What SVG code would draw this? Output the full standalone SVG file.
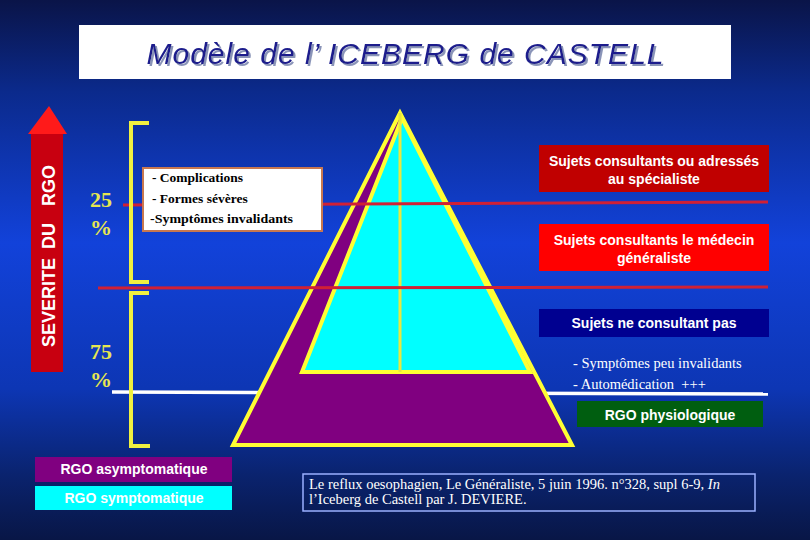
<svg xmlns="http://www.w3.org/2000/svg" width="810" height="540" viewBox="0 0 810 540">
<defs>
<linearGradient id="bg" x1="0" y1="0" x2="0" y2="1">
<stop offset="0" stop-color="#0a1448"/>
<stop offset="0.17" stop-color="#0b2a8c"/>
<stop offset="0.45" stop-color="#1242da"/>
<stop offset="0.72" stop-color="#0d36b4"/>
<stop offset="0.88" stop-color="#0a236e"/>
<stop offset="1" stop-color="#081646"/>
</linearGradient>
<filter id="shadow" x="-5%" y="-20%" width="110%" height="150%">
<feDropShadow dx="2" dy="2" stdDeviation="0.3" flood-color="#8a94b8" flood-opacity="1"/>
</filter>
</defs>
<style>
.sans{font-family:"Liberation Sans",Arial,sans-serif}
.serif{font-family:"Liberation Serif","Times New Roman",serif}
.bw{fill:#ffffff;font-weight:bold;font-size:14px;text-anchor:middle}
.pct{fill:#e6e650;font-size:22px;font-weight:bold}
.yb{fill:none;stroke:#f0f040;stroke-width:4}
.red{stroke:#d02035;stroke-width:3;fill:none}
.wt{fill:#ffffff;font-size:14.5px}
</style>
<rect width="810" height="540" fill="url(#bg)"/>

<g id="title">
<rect x="79" y="25" width="652" height="54" fill="#ffffff"/>
<text x="405" y="64" class="sans" font-size="30" font-style="italic" fill="#1c1c8c" text-anchor="middle" textLength="517" lengthAdjust="spacing" filter="url(#shadow)">Modèle de l’ ICEBERG de CASTELL</text>
</g>

<g id="severity-arrow">
<rect x="31" y="133" width="32" height="239" fill="#c80010"/>
<polygon points="49,106 67,134 28,134" fill="#ff1a1a"/>
<g transform="translate(55,347) rotate(-90)" class="sans" font-weight="bold" font-size="18" fill="#ffffff">
<text x="0" y="0">SEVERITE</text>
<text x="98" y="0">DU</text>
<text x="141" y="0">RGO</text>
</g>
</g>

<g id="separators">
<line x1="112" y1="392" x2="768" y2="394" stroke="#ffffff" stroke-width="3.5"/>
</g>

<g id="pyramid">
<polygon points="400,113 233,445 572,445" fill="#800080" stroke="#ffff33" stroke-width="4" stroke-linejoin="miter"/>
<polygon points="402,118 302,372 530,372" fill="#00ffff" stroke="#ffff33" stroke-width="4"/>
<line x1="400" y1="113" x2="400" y2="372" stroke="#e8e840" stroke-width="3"/>
</g>

<g id="level-lines">
<line class="red" x1="123" y1="205" x2="768" y2="202"/>
<line class="red" x1="98" y1="288" x2="768" y2="287"/>
</g>

<g id="bracket-25">
<polyline class="yb" points="149,123 131,123 131,282 149,282"/>
<text class="serif pct" x="90" y="207">25</text>
<text class="serif pct" x="90" y="235">%</text>
</g>

<g id="bracket-75">
<polyline class="yb" points="149,293 131,293 131,446 150,446"/>
<text class="serif pct" x="90" y="359">75</text>
<text class="serif pct" x="90" y="387">%</text>
</g>

<g id="severe-box">
<rect x="143" y="168" width="179" height="63" fill="#ffffff" stroke="#c87850" stroke-width="2"/>
<g class="serif" font-size="13.5" font-weight="bold" fill="#000000">
<text x="152" y="182">- Complications</text>
<text x="152" y="203">- Formes sévères</text>
<text x="150" y="223" textLength="143" lengthAdjust="spacingAndGlyphs">-Symptômes invalidants</text>
</g>
</g>

<g id="specialist">
<rect x="539" y="145" width="230" height="47" fill="#c00000"/>
<text class="sans bw" x="654" y="166">Sujets consultants ou adressés</text>
<text class="sans bw" x="654" y="184">au spécialiste</text>
</g>

<g id="generalist">
<rect x="539" y="224" width="230" height="47" fill="#ff0000"/>
<text class="sans bw" x="654" y="245">Sujets consultants le médecin</text>
<text class="sans bw" x="654" y="263">généraliste</text>
</g>

<g id="non-consulting">
<rect x="539" y="309" width="230" height="28" fill="#000090"/>
<text class="sans bw" x="654" y="328">Sujets ne consultant pas</text>
<text class="serif wt" x="573" y="368">- Symptômes peu invalidants</text>
<text class="serif wt" x="573" y="389" xml:space="preserve">- Automédication  +++</text>
</g>

<g id="physiological">
<rect x="577" y="401" width="186" height="26" fill="#005e10"/>
<text class="sans bw" x="670" y="420" font-size="13.5">RGO physiologique</text>
</g>

<g id="legend-asymptomatic">
<rect x="35" y="457" width="197" height="25" fill="#800080"/>
<text class="sans bw" x="134" y="474" font-size="12">RGO asymptomatique</text>
</g>

<g id="legend-symptomatic">
<rect x="35" y="486" width="197" height="24" fill="#00ffff"/>
<text class="sans bw" x="134" y="503" font-size="12">RGO symptomatique</text>
</g>

<g id="reference">
<rect x="303" y="474" width="452" height="37" fill="none" stroke="#9ab0ff" stroke-width="1.5"/>
<text class="serif wt" x="309" y="489" font-size="14.8px">Le reflux oesophagien, Le Généraliste, 5 juin 1996. n°328, supl 6-9, <tspan font-style="italic">In</tspan></text>
<text class="serif wt" x="309" y="504" font-size="14.8px">l’Iceberg de Castell par J. DEVIERE.</text>
</g>
</svg>
